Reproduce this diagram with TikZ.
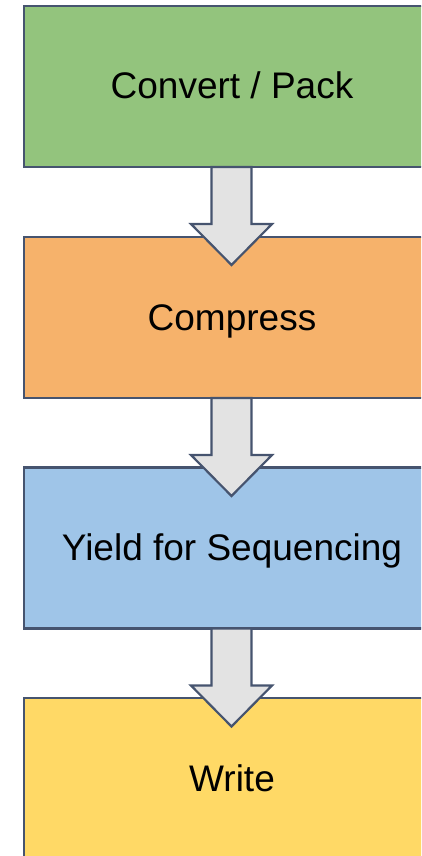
\documentclass[tikz,border=0pt]{standalone}
\usepackage{fontspec}
\setmainfont{Liberation Sans}
\usetikzlibrary{calc}
\definecolor{bordc}{HTML}{46546F}
\definecolor{gfill}{HTML}{93C47D}
\definecolor{ofill}{HTML}{F6B26B}
\definecolor{bfill}{HTML}{9FC5E8}
\definecolor{yfill}{HTML}{FFD966}
\definecolor{afill}{HTML}{E3E3E3}
\tikzset{
  stagebox/.style={draw=bordc, line width=2.2pt, rectangle, minimum width=416pt, minimum height=161pt, inner sep=0pt, outer sep=0pt, font=\fontsize{37}{40}\selectfont, text=black, text height=25pt, text depth=0pt},
  flowarrow/.style={draw=bordc, fill=afill, line width=2.2pt, line join=miter}
}
\begin{document}
\begin{tikzpicture}[x=1pt,y=-1pt]
\useasboundingbox (0,0) rectangle (421,856);
\clip (0,0) rectangle (421,856);
\node[stagebox, fill=gfill] (convert) at (232,86.5) {Convert / Pack};
\node[stagebox, fill=ofill] (compress) at (232,317.5) {Compress};
\node[stagebox, fill=bfill] (yield) at (232,548) {Yield for Sequencing};
\node[stagebox, fill=yfill] (write) at (232,778.5) {Write};
\foreach \a/\b in {convert/compress, compress/yield, yield/write}{
  \draw[flowarrow, shift={($(\a.south)+(-0.5,0)$)}] (-20,0) -- (-20,57) -- (-40.5,57) -- (0,98) -- (40.5,57) -- (20,57) -- (20,0) -- cycle;
}
\end{tikzpicture}
\end{document}
